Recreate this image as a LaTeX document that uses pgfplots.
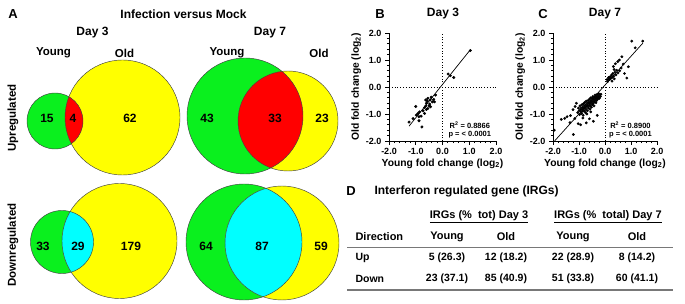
\documentclass[border=0pt]{standalone}
\usepackage{fontspec}
\setmainfont{Liberation Sans}
\usepackage{pgfplots}
\pgfplotsset{compat=1.18}
\definecolor{vgreen}{RGB}{10,240,30}
\definecolor{vyellow}{RGB}{255,255,0}
\definecolor{vred}{RGB}{255,0,0}
\definecolor{vcyan}{RGB}{0,255,255}
\definecolor{rulegray}{RGB}{120,120,120}
\newcommand{\fs}[1]{\fontsize{#1}{#1}\selectfont\bfseries}
\newcommand{\venn}[7]{%
 \fill[vgreen] (axis cs:#1,#2) circle[radius=#3];
 \fill[vyellow] (axis cs:#4,#5) circle[radius=#6];
 \begin{scope}\clip (axis cs:#1,#2) circle[radius=#3]; \fill[#7] (axis cs:#4,#5) circle[radius=#6];\end{scope}
 \draw[black!75, line width=0.45pt] (axis cs:#1,#2) circle[radius=#3];
 \draw[black!75, line width=0.45pt] (axis cs:#4,#5) circle[radius=#6];}

\pgfplotstableread{
x y
1.04 1.35
0.21 0.48
0.29 0.42
0.42 0.35
-1.25 -1.30
-1.00 -0.72
-0.98 -1.04
-0.88 -1.10
-0.86 -0.92
-0.80 -1.08
-0.77 -1.48
-0.88 -1.25
-0.73 -0.88
-0.67 -0.76
-0.63 -0.48
-0.60 -0.60
-0.55 -0.42
-0.50 -0.70
-0.46 -0.48
-0.42 -0.38
-0.38 -0.55
-0.33 -0.46
-0.26 -0.30
-0.55 -0.80
-0.60 -0.83
-0.48 -0.63
-0.67 -0.98
-1.10 -1.17
-0.92 -0.98
-0.57 -0.52
-0.45 -0.73
-0.30 -0.55
-0.62 -0.70
}\dayiii

\pgfplotstableread{
x y
1.03 1.70
1.45 1.70
1.16 1.45
0.65 1.12
0.55 1.00
0.49 0.94
0.40 0.86
0.32 0.76
0.90 0.75
0.75 0.50
0.84 0.33
0.62 0.70
0.45 0.62
0.38 0.55
0.30 0.50
0.25 0.44
0.20 0.38
0.15 0.30
0.12 0.25
0.10 0.20
0.18 0.28
0.22 0.32
0.28 0.36
0.33 0.40
0.36 0.30
0.42 0.45
0.50 0.52
0.27 0.22
0.14 0.35
0.08 0.28
0.56 0.60
0.70 0.85
0.35 0.65
-1.95 -1.60
-1.68 -1.20
-1.55 -1.16
-1.46 -1.10
-1.33 -1.06
-1.23 -0.84
-1.16 -1.17
-1.35 -1.32
-1.22 -1.76
-1.03 -1.36
-0.94 -1.40
-0.72 -1.33
-0.45 -1.27
-0.60 -1.18
-0.30 -1.05
-1.05 -0.95
-1.02 -0.78
-1.00 -0.88
-0.98 -1.02
-0.96 -0.70
-0.95 -0.85
-0.93 -0.92
-0.92 -0.78
-0.90 -0.98
-0.89 -0.66
-0.88 -0.84
-0.86 -0.75
-0.85 -0.90
-0.84 -1.05
-0.83 -0.62
-0.82 -0.80
-0.80 -0.70
-0.79 -0.88
-0.78 -0.57
-0.77 -0.76
-0.75 -0.95
-0.74 -0.66
-0.73 -0.82
-0.72 -0.52
-0.70 -0.72
-0.69 -0.60
-0.68 -0.88
-0.66 -0.68
-0.65 -0.50
-0.64 -0.78
-0.63 -0.58
-0.62 -0.70
-0.60 -0.45
-0.59 -0.63
-0.58 -0.82
-0.57 -0.55
-0.56 -0.70
-0.55 -0.40
-0.54 -0.60
-0.53 -0.50
-0.52 -0.75
-0.50 -0.55
-0.49 -0.42
-0.48 -0.65
-0.47 -0.35
-0.46 -0.52
-0.45 -0.60
-0.44 -0.45
-0.42 -0.70
-0.41 -0.38
-0.40 -0.55
-0.39 -0.48
-0.38 -0.30
-0.36 -0.42
-0.35 -0.58
-0.34 -0.36
-0.32 -0.50
-0.31 -0.28
-0.30 -0.40
-0.28 -0.45
-0.27 -0.33
-0.25 -0.38
-0.24 -0.25
-0.22 -0.42
-0.20 -0.30
-0.18 -0.35
-0.16 -0.27
-0.85 -1.15
-0.70 -1.00
-0.55 -0.92
-1.10 -0.60
-1.15 -0.72
}\dayvii

\pgfplotsset{
 scat/.style={
  scale only axis, anchor=south west,
  xmin=-2, xmax=2, ymin=-2, ymax=2,
  axis x line*=bottom, axis y line*=left,
  xtick={-2,-1,0,1,2}, ytick={-2,-1,0,1,2},
  minor tick num=4, tick align=outside,
  major tick length=4pt, minor tick length=2.2pt,
  every tick/.style={black, line width=0.8pt},
  axis line style={black, line width=0.8pt},
  ticklabel style={font=\fs{9}},
  /pgf/number format/fixed, /pgf/number format/fixed zerofill,
  /pgf/number format/precision=1, /pgf/number format/assume math mode=true,
  xlabel={Young fold change (log\textsubscript{2})},
  ylabel={Old fold change (log\textsubscript{2})},
  label style={font=\fs{10.3}},
  xlabel style={yshift=3pt},
  ylabel style={yshift=-2pt},
  clip=false,
 }
}

\begin{document}
\begin{tikzpicture}
\useasboundingbox (0,0) rectangle (685pt,304pt);
\begin{axis}[at={(0pt,0pt)}, anchor=south west, scale only axis, width=685pt, height=304pt,
  xmin=0, xmax=685, ymin=0, ymax=304, y dir=reverse, hide axis, clip=false]
 % Venn diagrams
 \venn{55}{121}{28}{122.5}{117.5}{57.5}{vred}
 \venn{245}{116}{58}{288}{121}{50}{vred}
 \venn{62}{242}{31.5}{119.5}{241}{57.5}{vcyan}
 \venn{244}{242}{58}{282}{243}{57}{vcyan}
 % Venn numbers
 \node[font=\fs{12}] at (axis cs:47,118) {15};
 \node[font=\fs{12}] at (axis cs:73,118) {4};
 \node[font=\fs{12}] at (axis cs:130,118) {62};
 \node[font=\fs{12}] at (axis cs:207,118) {43};
 \node[font=\fs{12}] at (axis cs:275,118) {33};
 \node[font=\fs{12}] at (axis cs:322,118) {23};
 \node[font=\fs{12}] at (axis cs:43,246) {33};
 \node[font=\fs{12}] at (axis cs:78,246) {29};
 \node[font=\fs{12}] at (axis cs:131,246) {179};
 \node[font=\fs{12}] at (axis cs:206,246) {64};
 \node[font=\fs{12}] at (axis cs:262,246) {87};
 \node[font=\fs{12}] at (axis cs:321,246) {59};
 % Panel A texts
 \node[font=\fs{13}] at (axis cs:13,14) {A};
 \node[font=\fs{12}] at (axis cs:183.5,14) {Infection versus Mock};
 \node[font=\fs{12}] at (axis cs:92.5,33) {Day 3};
 \node[font=\fs{12}] at (axis cs:270,33) {Day 7};
 \node[font=\fs{11.5}] at (axis cs:53.5,53) {Young};
 \node[font=\fs{11.5}] at (axis cs:124.5,53) {Old};
 \node[font=\fs{11.5}] at (axis cs:227,53) {Young};
 \node[font=\fs{11.5}] at (axis cs:319,53) {Old};
 \node[font=\fs{11.5}, rotate=90] at (axis cs:13,118) {Upregulated};
 \node[font=\fs{11.5}, rotate=90] at (axis cs:13,245) {Downregulated};
 % Panel B, C headings
 \node[font=\fs{13}] at (axis cs:380,14) {B};
 \node[font=\fs{12}] at (axis cs:443,14) {Day 3};
 \node[font=\fs{13}] at (axis cs:543,14) {C};
 \node[font=\fs{12}] at (axis cs:605,14) {Day 7};
 % Panel D
 \node[font=\fs{13}] at (axis cs:351,191) {D};
 \node[font=\fs{12}, anchor=west] at (axis cs:371,191) {Interferon regulated gene (IRGs)};
 \node[font=\fs{11}] at (axis cs:479,217) {\underline{IRGs (\%\ \ tot) Day 3}};
 \node[font=\fs{11}] at (axis cs:608,217) {\underline{IRGs (\%\ \ total) Day 7}};
 \node[font=\fs{11}, anchor=west] at (axis cs:352,237) {Direction};
 \node[font=\fs{11}] at (axis cs:447,237) {Young};
 \node[font=\fs{11}] at (axis cs:506,237) {Old};
 \node[font=\fs{11}] at (axis cs:573,237) {Young};
 \node[font=\fs{11}] at (axis cs:637,237) {Old};
 \draw[rulegray, line width=1.6pt] (axis cs:347,247.5) -- (axis cs:673,247.5);
 \node[font=\fs{10.5}, anchor=west] at (axis cs:352,258) {Up};
 \node[font=\fs{10.5}] at (axis cs:447,258) {5 (26.3)};
 \node[font=\fs{10.5}] at (axis cs:506,258) {12 (18.2)};
 \node[font=\fs{10.5}] at (axis cs:573,258) {22 (28.9)};
 \node[font=\fs{10.5}] at (axis cs:637,258) {8 (14.2)};
 \node[font=\fs{10.5}, anchor=west] at (axis cs:352,279) {Down};
 \node[font=\fs{10.5}] at (axis cs:447,279) {23 (37.1)};
 \node[font=\fs{10.5}] at (axis cs:506,279) {85 (40.9)};
 \node[font=\fs{10.5}] at (axis cs:573,279) {51 (33.8)};
 \node[font=\fs{10.5}] at (axis cs:637,279) {60 (41.1)};
 \draw[rulegray, line width=1.6pt] (axis cs:347,290) -- (axis cs:673,290);
\end{axis}

% Panel B
\begin{axis}[scat, at={(389pt,163pt)}, width=107pt, height=108pt]
 \addplot[black, dotted, line width=0.8pt] coordinates {(0,-2) (0,2)};
 \addplot[black, dotted, line width=0.8pt] coordinates {(-2,0) (2,0)};
 \addplot[black, line width=0.7pt] coordinates {(-1.25,-1.45) (1.04,1.38)};
 \addplot[only marks, mark=*, mark size=1.3pt, black] table[x=x, y=y] {\dayiii};
 \node[font=\fs{7.5}] at (axis cs:1.02,-1.43) {R\textsuperscript{2} = 0.8866};
 \node[font=\fs{7.5}] at (axis cs:1.02,-1.78) {p = < 0.0001};
\end{axis}

% Panel C
\begin{axis}[scat, at={(553pt,163pt)}, width=104pt, height=108pt]
 \addplot[black, dotted, line width=0.8pt] coordinates {(0,-2) (0,2)};
 \addplot[black, dotted, line width=0.8pt] coordinates {(-2,0) (2,0)};
 \addplot[black, line width=0.7pt] coordinates {(-1.94,-2.0) (1.46,1.63)};
 \addplot[only marks, mark=*, mark size=1.2pt, black] table[x=x, y=y] {\dayvii};
 \node[font=\fs{7.5}] at (axis cs:0.98,-1.43) {R\textsuperscript{2} = 0.8900};
 \node[font=\fs{7.5}] at (axis cs:0.98,-1.78) {p = < 0.0001};
\end{axis}
\end{tikzpicture}
\end{document}
